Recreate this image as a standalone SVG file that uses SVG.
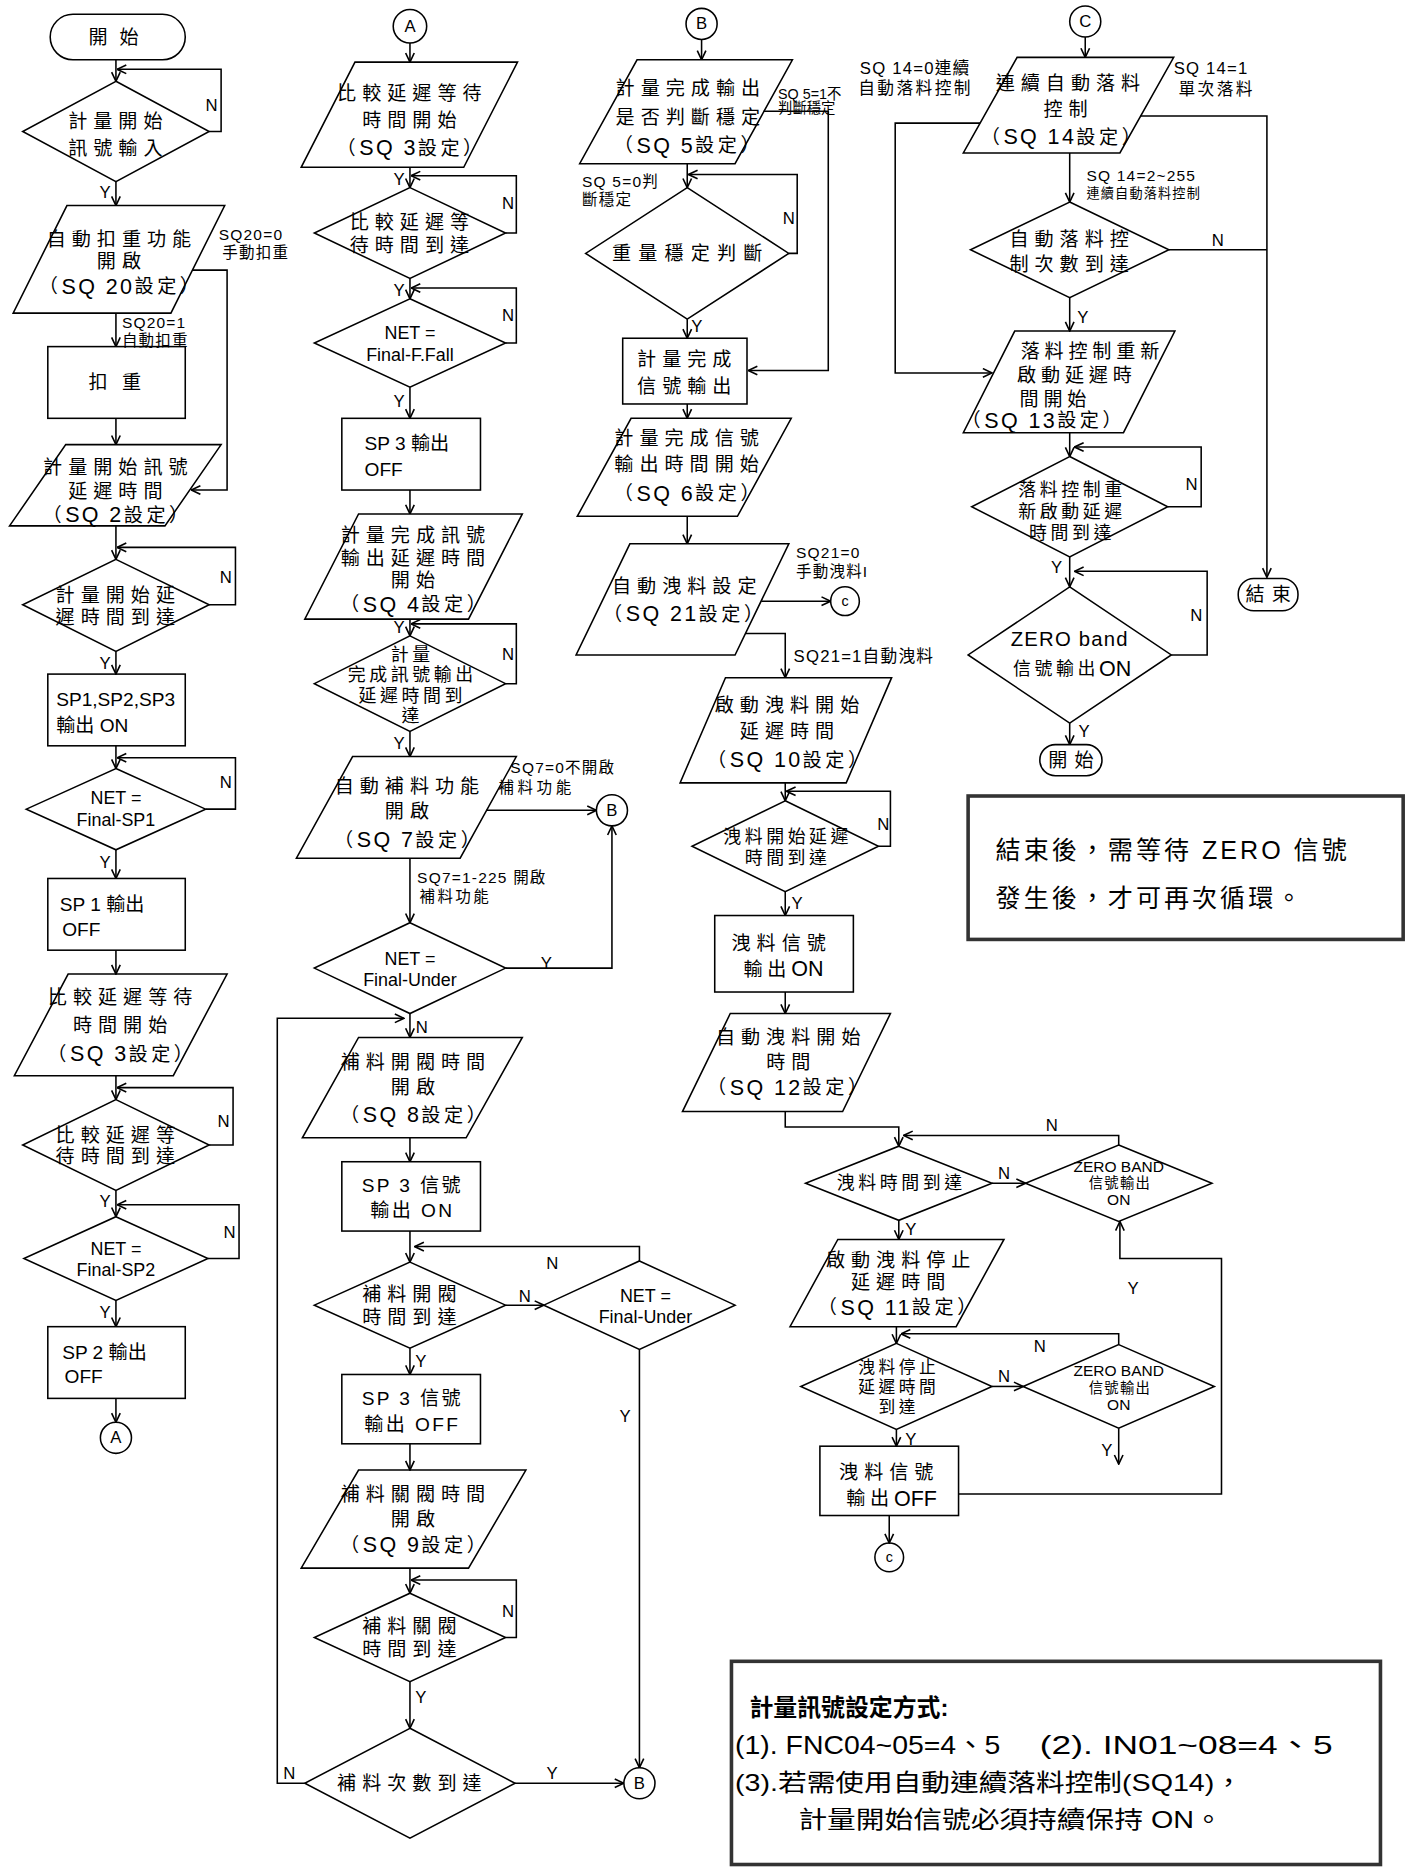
<svg xmlns="http://www.w3.org/2000/svg" width="1408" height="1874" viewBox="0 0 1408 1874">
<defs>
<style>
.n{fill:#fff;stroke:#000;stroke-width:1.3}
.c{fill:none;stroke:#000;stroke-width:1.3;marker-end:url(#ah)}
.l{fill:none;stroke:#000;stroke-width:1.3}
text{font-family:"Liberation Sans","Noto Sans CJK TC",sans-serif;fill:#000;dominant-baseline:central}
.t{font-size:16px;letter-spacing:5px;text-anchor:middle}
.ts{font-size:16px;letter-spacing:4px}
.t3{font-size:15px;letter-spacing:3px;text-anchor:middle}
.t4{font-size:14px;letter-spacing:3px;text-anchor:middle}
.q{font-size:16px;letter-spacing:3px;text-anchor:middle}
.sq{font-size:18px;letter-spacing:2px}
.on{font-size:18px;letter-spacing:0}
.e{font-size:15px;text-anchor:middle}
.el{font-size:16px}
.em{font-size:16px;letter-spacing:2px;text-anchor:middle}
.s{font-size:11px;letter-spacing:1px}
.sl{font-size:12px}
.lb{font-size:13px;letter-spacing:1px}
.yn{font-size:14px;text-anchor:middle}
.z{font-size:13px;text-anchor:middle}
.zc{font-size:12px;letter-spacing:1px;text-anchor:middle}
.cir{font-size:14px;text-anchor:middle}
.note{fill:#fff;stroke:#333;stroke-width:3}
.nt{font-size:21px;letter-spacing:2.5px}
.nt2{font-size:20px}
.nt3{font-size:22px}
</style>
<marker id="ah" viewBox="0 0 10 10" refX="9.5" refY="5" markerWidth="9" markerHeight="9" markerUnits="userSpaceOnUse" orient="auto"><path d="M1,1 L9.5,5 L1,9" fill="none" stroke="#000" stroke-width="1.5"/></marker>
</defs>
<rect width="1408" height="1874" fill="#fff"/>
<g transform="scale(1.1952)">

<!-- ===== Column 1 nodes ===== -->
<g id="c1-start"><rect class="n" x="42" y="12" width="113" height="38" rx="19"/><text class="t" x="100" y="31" style="letter-spacing:10px">開始</text></g>
<g id="c1-d1"><polygon class="n" points="97,68 175,110 97,152 19,110"/><text class="t" x="99" y="102">計量開始</text><text class="t" x="99" y="124">訊號輸入</text></g>
<g id="c1-p1"><polygon class="n" points="56,172 188,172 143,262 11,262"/><text class="t" x="102" y="200">自動扣重功能</text><text class="t" x="102" y="219">開啟</text><text class="q" x="101" y="240">（<tspan class="sq">SQ 20</tspan>設定）</text></g>
<g id="c1-r1"><rect class="n" x="40" y="290" width="115" height="60"/><text class="t" x="102" y="320" style="letter-spacing:12px">扣重</text></g>
<g id="c1-p2"><polygon class="n" points="55,372 185,372 138,440 8,440"/><text class="t" x="99" y="391">計量開始訊號</text><text class="t" x="99" y="411">延遲時間</text><text class="q" x="98" y="431">（<tspan class="sq">SQ 2</tspan>設定）</text></g>
<g id="c1-d2"><polygon class="n" points="97,468 175,506 97,545 19,506"/><text class="t" x="99" y="498">計量開始延</text><text class="t" x="99" y="517">遲時間到達</text></g>
<g id="c1-r2"><rect class="n" x="40" y="564" width="115" height="60"/><text class="el" x="47" y="585">SP1,SP2,SP3</text><text class="el" x="47" y="607">輸出 ON</text></g>
<g id="c1-d3"><polygon class="n" points="97,643 172,677 97,711 22,677"/><text class="e" x="97" y="668">NET =</text><text class="e" x="97" y="686">Final-SP1</text></g>
<g id="c1-r3"><rect class="n" x="40" y="735" width="115" height="60"/><text class="el" x="50" y="757">SP 1 輸出</text><text class="el" x="52" y="778">OFF</text></g>
<g id="c1-p3"><polygon class="n" points="57,815 190,815 145,900 12,900"/><text class="t" x="103" y="835">比較延遲等待</text><text class="t" x="103" y="858">時間開始</text><text class="q" x="102" y="882">（<tspan class="sq">SQ 3</tspan>設定）</text></g>
<g id="c1-d4"><polygon class="n" points="97,920 175,958 97,996 19,958"/><text class="t" x="99" y="950">比較延遲等</text><text class="t" x="99" y="968">待時間到達</text></g>
<g id="c1-d5"><polygon class="n" points="97,1018 174,1053 97,1088 20,1053"/><text class="e" x="97" y="1045">NET =</text><text class="e" x="97" y="1063">Final-SP2</text></g>
<g id="c1-r4"><rect class="n" x="40" y="1110" width="115" height="60"/><text class="el" x="52" y="1132">SP 2 輸出</text><text class="el" x="54" y="1152">OFF</text></g>
<g id="c1-a"><circle class="n" cx="97" cy="1203" r="13"/><text class="cir" x="97" y="1203">A</text></g>

<!-- ===== Column 2 nodes ===== -->
<g id="c2-a"><circle class="n" cx="343" cy="22" r="14"/><text class="cir" x="343" y="22">A</text></g>
<g id="c2-p1"><polygon class="n" points="297,52 433,52 388,140 252,140"/><text class="t" x="345" y="78">比較延遲等待</text><text class="t" x="345" y="101">時間開始</text><text class="q" x="344" y="124">（<tspan class="sq">SQ 3</tspan>設定）</text></g>
<g id="c2-d1"><polygon class="n" points="343,157 423,195 343,233 263,195"/><text class="t" x="345" y="186">比較延遲等</text><text class="t" x="345" y="205">待時間到達</text></g>
<g id="c2-d2"><polygon class="n" points="343,250 423,287 343,324 263,287"/><text class="e" x="343" y="279">NET =</text><text class="e" x="343" y="297">Final-F.Fall</text></g>
<g id="c2-r1"><rect class="n" x="286" y="350" width="116" height="60"/><text class="el" x="305" y="371">SP 3 輸出</text><text class="el" x="305" y="393">OFF</text></g>
<g id="c2-p2"><polygon class="n" points="300,430 437,430 392,518 255,518"/><text class="t" x="348" y="448">計量完成訊號</text><text class="t" x="348" y="467">輸出延遲時間</text><text class="t" x="348" y="486">開始</text><text class="q" x="347" y="506">（<tspan class="sq">SQ 4</tspan>設定）</text></g>
<g id="c2-d3"><polygon class="n" points="343,532 423,572 343,612 263,572"/><text class="t3" x="345" y="548">計量</text><text class="t3" x="345" y="565">完成訊號輸出</text><text class="t3" x="345" y="582">延遲時間到</text><text class="t3" x="345" y="599">達</text></g>
<g id="c2-p3"><polygon class="n" points="295,633 432,633 385,718 248,718"/><text class="t" x="343" y="658">自動補料功能</text><text class="t" x="343" y="679">開啟</text><text class="q" x="342" y="703">（<tspan class="sq">SQ 7</tspan>設定）</text></g>
<g id="c2-b1"><circle class="n" cx="512" cy="678" r="13"/><text class="cir" x="512" y="678">B</text></g>
<g id="c2-d4"><polygon class="n" points="343,772 423,810 343,848 263,810"/><text class="e" x="343" y="802">NET =</text><text class="e" x="343" y="820">Final-Under</text></g>
<g id="c2-p4"><polygon class="n" points="300,868 437,868 390,952 253,952"/><text class="t" x="348" y="889">補料開閥時間</text><text class="t" x="348" y="910">開啟</text><text class="q" x="347" y="933">（<tspan class="sq">SQ 8</tspan>設定）</text></g>
<g id="c2-r2"><rect class="n" x="286" y="972" width="116" height="58"/><text class="em" x="345" y="992">SP 3 信號</text><text class="em" x="345" y="1013">輸出 ON</text></g>
<g id="c2-d5"><polygon class="n" points="343,1056 423,1092 343,1128 263,1092"/><text class="t" x="345" y="1083">補料開閥</text><text class="t" x="345" y="1102">時間到達</text></g>
<g id="c2-d6"><polygon class="n" points="535,1055 615,1092 535,1129 455,1092"/><text class="e" x="540" y="1084">NET =</text><text class="e" x="540" y="1102">Final-Under</text></g>
<g id="c2-r3"><rect class="n" x="286" y="1150" width="116" height="58"/><text class="em" x="345" y="1170">SP 3 信號</text><text class="em" x="345" y="1192">輸出 OFF</text></g>
<g id="c2-p5"><polygon class="n" points="300,1230 440,1230 392,1312 252,1312"/><text class="t" x="348" y="1250">補料關閥時間</text><text class="t" x="348" y="1271">開啟</text><text class="q" x="347" y="1293">（<tspan class="sq">SQ 9</tspan>設定）</text></g>
<g id="c2-d7"><polygon class="n" points="343,1333 423,1370 343,1407 263,1370"/><text class="t" x="345" y="1361">補料關閥</text><text class="t" x="345" y="1380">時間到達</text></g>
<g id="c2-d8"><polygon class="n" points="343,1446 431,1492 343,1538 255,1492"/><text class="t" x="345" y="1492">補料次數到達</text></g>
<g id="c2-b2"><circle class="n" cx="535" cy="1492" r="13"/><text class="cir" x="535" y="1492">B</text></g>

<!-- ===== Column 3 nodes ===== -->
<g id="c3-b"><circle class="n" cx="587" cy="20" r="13"/><text class="cir" x="587" y="20">B</text></g>
<g id="c3-p1"><polygon class="n" points="533,50 663,50 615,137 485,137"/><text class="t" x="578" y="74">計量完成輸出</text><text class="t" x="578" y="98">是否判斷穩定</text><text class="q" x="576" y="122">（<tspan class="sq">SQ 5</tspan>設定）</text></g>
<g id="c3-d1"><polygon class="n" points="575,157 660,212 575,267 490,212"/><text class="t" x="578" y="212" style="letter-spacing:6px">重量穩定判斷</text></g>
<g id="c3-r1"><rect class="n" x="521" y="283" width="104" height="55"/><text class="t" x="575" y="301">計量完成</text><text class="t" x="575" y="323">信號輸出</text></g>
<g id="c3-p2"><polygon class="n" points="528,350 662,350 617,432 483,432"/><text class="t" x="577" y="367">計量完成信號</text><text class="t" x="577" y="389">輸出時間開始</text><text class="q" x="576" y="413">（<tspan class="sq">SQ 6</tspan>設定）</text></g>
<g id="c3-p3"><polygon class="n" points="527,455 660,455 615,548 482,548"/><text class="t" x="575" y="491">自動洩料設定</text><text class="q" x="573" y="514">（<tspan class="sq">SQ 21</tspan>設定）</text></g>
<g id="c3-c1"><circle class="n" cx="707" cy="503" r="12"/><text class="sl" x="707" y="503" style="text-anchor:middle">c</text></g>
<g id="c3-p4"><polygon class="n" points="607,567 746,567 708,655 569,655"/><text class="t" x="661" y="590">啟動洩料開始</text><text class="t" x="661" y="612">延遲時間</text><text class="q" x="660" y="636">（<tspan class="sq">SQ 10</tspan>設定）</text></g>
<g id="c3-d2"><polygon class="n" points="657,670 735,708 657,746 579,708"/><text class="t3" x="659" y="700">洩料開始延遲</text><text class="t3" x="659" y="718">時間到達</text></g>
<g id="c3-r2"><rect class="n" x="598" y="766" width="116" height="64"/><text class="t" x="654" y="789">洩料信號</text><text class="ts" x="622" y="811">輸出<tspan class="on">ON</tspan></text></g>
<g id="c3-p5"><polygon class="n" points="611,848 745,848 705,930 571,930"/><text class="t" x="662" y="868">自動洩料開始</text><text class="t" x="662" y="889">時間</text><text class="q" x="660" y="910">（<tspan class="sq">SQ 12</tspan>設定）</text></g>
<g id="c3-d3"><polygon class="n" points="752,959 830,990 752,1021 674,990"/><text class="t3" x="754" y="990">洩料時間到達</text></g>
<g id="c3-z1"><polygon class="n" points="936,958 1014,990 936,1022 858,990"/><text class="z" x="936" y="976">ZERO BAND</text><text class="zc" x="937" y="990">信號輸出</text><text class="z" x="936" y="1004">ON</text></g>
<g id="c3-p6"><polygon class="n" points="701,1037 840,1037 800,1110 661,1110"/><text class="t" x="754" y="1055">啟動洩料停止</text><text class="t" x="754" y="1073">延遲時間</text><text class="q" x="752" y="1094">（<tspan class="sq">SQ 11</tspan>設定）</text></g>
<g id="c3-d4"><polygon class="n" points="750,1124 830,1160 750,1196 670,1160"/><text class="t4" x="752" y="1144">洩料停止</text><text class="t4" x="752" y="1161">延遲時間</text><text class="t4" x="752" y="1178">到達</text></g>
<g id="c3-z2"><polygon class="n" points="936,1125 1016,1160 936,1195 856,1160"/><text class="z" x="936" y="1147">ZERO BAND</text><text class="zc" x="937" y="1161">信號輸出</text><text class="z" x="936" y="1175">ON</text></g>
<g id="c3-r3"><rect class="n" x="686" y="1210" width="116" height="58"/><text class="t" x="744" y="1232">洩料信號</text><text class="ts" x="708" y="1254">輸出<tspan class="on">OFF</tspan></text></g>
<g id="c3-c2"><circle class="n" cx="744" cy="1303" r="12"/><text class="sl" x="744" y="1303" style="text-anchor:middle">c</text></g>

<!-- ===== Column 4 nodes ===== -->
<g id="c4-c"><circle class="n" cx="908" cy="18" r="13"/><text class="cir" x="908" y="18">C</text></g>
<g id="c4-p1"><polygon class="n" points="851,48 982,48 937,128 806,128"/><text class="t" x="896" y="70">連續自動落料</text><text class="t" x="894" y="92">控制</text><text class="q" x="889" y="115">（<tspan class="sq">SQ 14</tspan>設定）</text></g>
<g id="c4-d1"><polygon class="n" points="895,169 978,209 895,249 812,209"/><text class="t" x="897" y="200">自動落料控</text><text class="t" x="897" y="221">制次數到達</text></g>
<g id="c4-p2"><polygon class="n" points="849,277 983,277 940,362 806,362"/><text class="ts" x="854" y="294">落料控制重新</text><text class="ts" x="851" y="314">啟動延遲時</text><text class="ts" x="853" y="334">間開始</text><text class="q" x="873" y="352">（<tspan class="sq">SQ 13</tspan>設定）</text></g>
<g id="c4-d2"><polygon class="n" points="895,382 977,424 895,466 813,424"/><text class="t3" x="897" y="410">落料控制重</text><text class="t3" x="897" y="428">新啟動延遲</text><text class="t3" x="897" y="446">時間到達</text></g>
<g id="c4-d3"><polygon class="n" points="895,491 980,548 895,605 810,548"/><text class="el" x="895" y="535" style="text-anchor:middle;font-size:17px;letter-spacing:1px">ZERO band</text><text class="t3" x="897" y="560">信號輸出<tspan class="on">ON</tspan></text></g>
<g id="c4-end"><rect class="n" x="1036" y="484" width="50" height="27" rx="13"/><text class="t" x="1064" y="497" style="letter-spacing:6px">結束</text></g>
<g id="c4-start"><rect class="n" x="870" y="623" width="52" height="26" rx="13"/><text class="t" x="899" y="636" style="letter-spacing:6px">開始</text></g>

<!-- ===== Notes ===== -->
<g id="note1"><rect class="note" x="810" y="666" width="364" height="120"/><text class="nt" x="833" y="711">結束後，需等待 ZERO 信號</text><text class="nt" x="833" y="751">發生後，才可再次循環。</text></g>
<g id="note2"><rect class="note" x="612" y="1390" width="543" height="170"/>
<text class="nt2" x="627" y="1429" style="font-weight:bold">計量訊號設定方式:</text>
<text class="nt3" x="615" y="1460" textLength="222" lengthAdjust="spacingAndGlyphs">(1). FNC04~05=4、5</text>
<text class="nt3" x="870" y="1460" textLength="245" lengthAdjust="spacingAndGlyphs">(2). IN01~08=4、5</text>
<text class="nt2" x="615" y="1491" textLength="425" lengthAdjust="spacingAndGlyphs">(3).若需使用自動連續落料控制(SQ14)，</text>
<text class="nt2" x="668" y="1522" textLength="355" lengthAdjust="spacingAndGlyphs">計量開始信號必須持續保持 ON。</text>
</g>

<!-- ===== Connectors ===== -->
<g id="connectors">
<!-- column 1 -->
<path class="c" d="M97,50V68"/>
<path class="c" d="M175,110H185V58H98"/>
<path class="c" d="M97,152V172"/>
<path class="c" d="M161,226H190V410H160"/>
<path class="c" d="M97,262V290"/>
<path class="c" d="M97,350V372"/>
<path class="c" d="M97,440V468"/>
<path class="c" d="M175,506H197V458H98"/>
<path class="c" d="M97,545V564"/>
<path class="c" d="M97,624V643"/>
<path class="c" d="M172,677H197V634H98"/>
<path class="c" d="M97,711V735"/>
<path class="c" d="M97,795V815"/>
<path class="c" d="M97,900V920"/>
<path class="c" d="M175,958H195V910H98"/>
<path class="c" d="M97,996V1018"/>
<path class="c" d="M174,1053H200V1008H98"/>
<path class="c" d="M97,1088V1110"/>
<path class="c" d="M97,1170V1190"/>
<text class="yn" x="177" y="88">N</text>
<text class="yn" x="88" y="161">Y</text>
<text class="lb" x="183" y="196">SQ20=0</text>
<text class="lb" x="186" y="211">手動扣重</text>
<text class="lb" x="102" y="270">SQ20=1</text>
<text class="lb" x="102" y="285">自動扣重</text>
<text class="yn" x="189" y="483">N</text>
<text class="yn" x="88" y="555">Y</text>
<text class="yn" x="189" y="655">N</text>
<text class="yn" x="88" y="722">Y</text>
<text class="yn" x="187" y="938">N</text>
<text class="yn" x="88" y="1005">Y</text>
<text class="yn" x="192" y="1031">N</text>
<text class="yn" x="88" y="1098">Y</text>
<!-- column 2 -->
<path class="c" d="M343,36V52"/>
<path class="c" d="M343,140V157"/>
<path class="c" d="M423,195H432V147H344"/>
<path class="c" d="M343,233V250"/>
<path class="c" d="M423,287H432V241H344"/>
<path class="c" d="M343,324V350"/>
<path class="c" d="M343,410V430"/>
<path class="c" d="M343,518V532"/>
<path class="c" d="M423,572H432V522H344"/>
<path class="c" d="M343,612V633"/>
<path class="c" d="M407,678H499"/>
<path class="c" d="M343,718V772"/>
<path class="c" d="M423,810H512V691"/>
<path class="c" d="M343,848V868"/>
<path class="c" d="M255,1492H232V852H338"/>
<path class="c" d="M343,952V972"/>
<path class="c" d="M343,1030V1056"/>
<path class="c" d="M423,1092H455"/>
<path class="c" d="M535,1055V1043H347"/>
<path class="c" d="M535,1129V1479"/>
<path class="c" d="M343,1128V1150"/>
<path class="c" d="M343,1208V1230"/>
<path class="c" d="M343,1312V1333"/>
<path class="c" d="M423,1370H432V1322H344"/>
<path class="c" d="M343,1407V1446"/>
<path class="c" d="M431,1492H522"/>
<text class="yn" x="334" y="150">Y</text>
<text class="yn" x="425" y="170">N</text>
<text class="yn" x="334" y="243">Y</text>
<text class="yn" x="425" y="264">N</text>
<text class="yn" x="334" y="336">Y</text>
<text class="yn" x="334" y="525">Y</text>
<text class="yn" x="425" y="548">N</text>
<text class="yn" x="334" y="622">Y</text>
<text class="lb" x="427" y="642">SQ7=0不開啟</text>
<text class="lb" x="417" y="659" style="letter-spacing:3px">補料功能</text>
<text class="lb" x="349" y="734">SQ7=1-225 開啟</text>
<text class="lb" x="351" y="750" style="letter-spacing:2px">補料功能</text>
<text class="yn" x="457" y="806">Y</text>
<text class="yn" x="353" y="860">N</text>
<text class="yn" x="439" y="1085">N</text>
<text class="yn" x="462" y="1057">N</text>
<text class="yn" x="523" y="1185">Y</text>
<text class="yn" x="352" y="1139">Y</text>
<text class="yn" x="425" y="1348">N</text>
<text class="yn" x="352" y="1420">Y</text>
<text class="yn" x="462" y="1484">Y</text>
<text class="yn" x="242" y="1484">N</text>
<!-- column 3 -->
<path class="c" d="M587,33V50"/>
<path class="c" d="M639,93H693V310H626"/>
<path class="c" d="M575,137V157"/>
<path class="c" d="M660,212H667V146H576"/>
<path class="c" d="M575,267V283"/>
<path class="c" d="M575,338V350"/>
<path class="c" d="M575,432V455"/>
<path class="c" d="M637,503H695"/>
<path class="c" d="M624,530H657V567"/>
<path class="c" d="M657,655V670"/>
<path class="c" d="M735,708H745V662H658"/>
<path class="c" d="M657,746V766"/>
<path class="c" d="M657,830V848"/>
<path class="c" d="M657,930V943H752V959"/>
<path class="c" d="M936,958V950H756"/>
<path class="c" d="M830,990H858"/>
<path class="c" d="M752,1021V1037"/>
<path class="c" d="M750,1110V1124"/>
<path class="c" d="M936,1125V1116H754"/>
<path class="c" d="M830,1160H856"/>
<path class="c" d="M936,1195V1225"/>
<path class="c" d="M750,1196V1210"/>
<path class="c" d="M802,1250H1022V1053H937V1022"/>
<path class="c" d="M744,1268V1291"/>
<text class="sl" x="651" y="79">SQ 5=1不</text>
<text class="sl" x="651" y="90">判斷穩定</text>
<text class="lb" x="487" y="152">SQ 5=0判</text>
<text class="lb" x="487" y="167">斷穩定</text>
<text class="yn" x="660" y="183">N</text>
<text class="yn" x="583" y="273">Y</text>
<text class="lb" x="666" y="462">SQ21=0</text>
<text class="lb" x="666" y="478">手動洩料I</text>
<text class="lb" x="664" y="549" style="font-size:14px">SQ21=1自動洩料</text>
<text class="yn" x="739" y="690">N</text>
<text class="yn" x="667" y="756">Y</text>
<text class="yn" x="880" y="942">N</text>
<text class="yn" x="840" y="982">N</text>
<text class="yn" x="762" y="1029">Y</text>
<text class="yn" x="870" y="1127">N</text>
<text class="yn" x="840" y="1152">N</text>
<text class="yn" x="926" y="1214">Y</text>
<text class="yn" x="762" y="1204">Y</text>
<text class="yn" x="948" y="1078">Y</text>
<!-- column 4 -->
<path class="c" d="M908,31V48"/>
<path class="c" d="M820,103H749V312H830"/>
<path class="c" d="M954,97H1060V483"/>
<path class="c" d="M895,128V169"/>
<path class="l" d="M978,209H1060"/>
<path class="c" d="M895,249V277"/>
<path class="c" d="M895,362V382"/>
<path class="c" d="M977,424H1005V374H899"/>
<path class="c" d="M895,466V491"/>
<path class="c" d="M980,548H1010V478H899"/>
<path class="c" d="M895,605V623"/>
<text class="lb" x="812" y="57" style="text-anchor:end;font-size:14px">SQ 14=0連續</text>
<text class="lb" x="814" y="74" style="text-anchor:end;font-size:14px;letter-spacing:2px">自動落料控制</text>
<text class="lb" x="982" y="57" style="font-size:14px">SQ 14=1</text>
<text class="lb" x="986" y="75" style="font-size:14px;letter-spacing:2px">單次落料</text>
<text class="lb" x="909" y="147">SQ 14=2~255</text>
<text class="s" x="909" y="162">連續自動落料控制</text>
<text class="yn" x="1019" y="201">N</text>
<text class="yn" x="906" y="266">Y</text>
<text class="yn" x="997" y="405">N</text>
<text class="yn" x="884" y="475">Y</text>
<text class="yn" x="1001" y="515">N</text>
<text class="yn" x="907" y="612">Y</text>
</g>
</g>
</svg>
